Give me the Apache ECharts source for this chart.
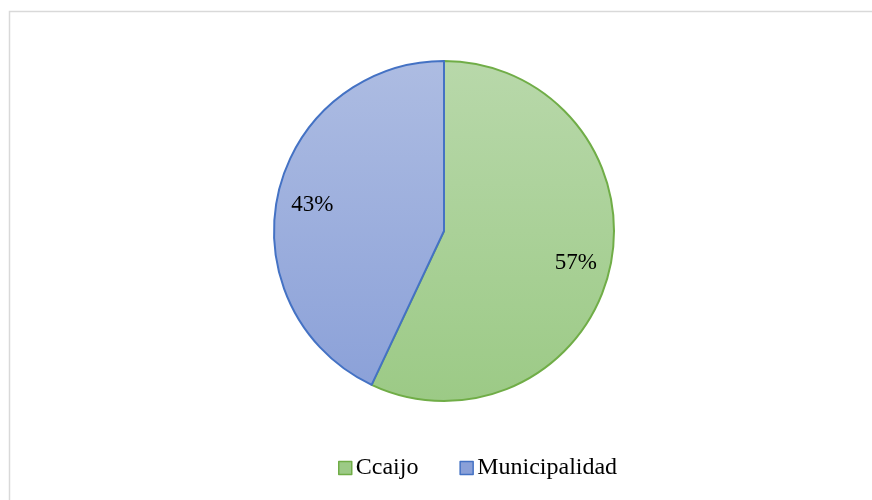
<!DOCTYPE html>
<html>
<head>
<meta charset="utf-8">
<script src="https://cdn.jsdelivr.net/npm/echarts@6/dist/echarts.min.js"></script>
<style>
html,body{margin:0;padding:0;background:#fff;}
#c{width:872px;height:500px;}
</style>
</head>
<body>
<div id="c"></div>
<script>
const categories = ['Ccaijo', 'Municipalidad'];
const values = [57, 43];
const labels = ['57%', '43%'];

const fills = [
  ['#b8d8aa', '#9cca86'],
  ['#adbce2', '#8aa0d8']
];
const edges = ['#70ad47', '#4472c4'];

const chart = echarts.init(document.getElementById('c'), null, {renderer: 'canvas'});

const grad = (c) => ({
  type: 'linear', x: 0, y: 61, x2: 0, y2: 401, global: true,
  colorStops: [{offset: 0, color: c[0]}, {offset: 1, color: c[1]}]
});

const mainData = categories.map((n, i) => ({
  name: n, value: values[i],
  itemStyle: {color: grad(fills[i]), borderColor: edges[i], borderWidth: 2}
}));
const labelData = categories.map((n, i) => ({
  name: n, value: values[i],
  label: {formatter: labels[i]}
}));

chart.setOption({
  animation: false,
  backgroundColor: '#ffffff',
  graphic: [{
    type: 'rect', silent: true,
    shape: {x: 9.5, y: 11.5, width: 900, height: 600},
    style: {fill: 'none', stroke: '#d9d9d9', lineWidth: 1.5}
  }],
  color: edges,
  legend: {
    data: categories.map((n, i) => ({
      name: n,
      itemStyle: {color: fills[i][1], borderColor: edges[i], borderWidth: 1.5}
    })),
    left: 333, top: 451,
    icon: 'rect', itemWidth: 13, itemHeight: 13, itemGap: 41,
    textStyle: {fontFamily: 'Liberation Serif', fontSize: 24, color: '#000', padding: [0, 0, 0, -1]}
  },
  series: [{
    type: 'pie',
    center: [444, 231],
    radius: [0, 170],
    startAngle: 90,
    clockwise: true,
    silent: true,
    label: {show: false},
    labelLine: {show: false},
    emphasis: {disabled: true},
    data: mainData
  }, {
    type: 'pie',
    center: [444, 231],
    radius: [94, 170],
    startAngle: 90,
    clockwise: true,
    silent: true,
    itemStyle: {color: 'rgba(0,0,0,0)', borderWidth: 0},
    label: {show: true, position: 'inside', fontFamily: 'Liberation Serif', fontSize: 23, color: '#000', offset: [0, 3]},
    labelLine: {show: false},
    emphasis: {disabled: true},
    legendHoverLink: false,
    data: labelData
  }]
});
</script>
</body>
</html>
